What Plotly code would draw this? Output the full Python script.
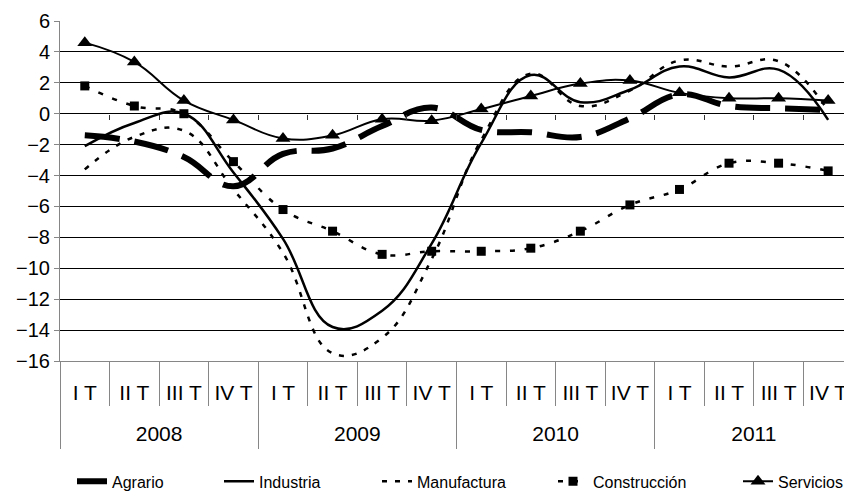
import plotly.graph_objects as go

quarters = ["I T", "II T", "III T", "IV T"] * 4
years = ["2008", "2009", "2010", "2011"]

agrario = [-1.4, -1.8, -2.8, -4.7, -2.6, -2.25, -0.8, 0.4, -1.05, -1.2, -1.5, -0.3, 1.25, 0.5, 0.35, 0.25]
industria = [-2.1, -0.6, 0.0, -3.8, -8.1, -13.8, -12.75, -8.4, -1.9, 2.5, 0.75, 1.55, 3.05, 2.35, 2.85, -0.4]
manufactura = [-3.6, -1.5, -1.1, -4.9, -9.0, -15.5, -14.5, -9.4, -1.7, 2.6, 0.5, 1.5, 3.45, 3.05, 3.4, 0.2]
construccion = [1.8, 0.5, 0.0, -3.1, -6.2, -7.6, -9.1, -8.9, -8.9, -8.7, -7.6, -5.9, -4.9, -3.2, -3.2, -3.7]
servicios = [4.6, 3.35, 0.85, -0.4, -1.6, -1.4, -0.35, -0.45, 0.3, 1.15, 1.95, 2.15, 1.35, 1.0, 1.0, 0.85]

x = list(range(len(quarters)))
bounds = [i - 0.5 for i in range(len(quarters) + 1)]
year_mid = [4 * k + 1.5 for k in range(len(years))]
year_bounds = [4 * k - 0.5 for k in range(len(years) + 1)]
xr = [-0.5, 15.32]
yr = [-16, 6]

FONT = "Liberation Sans, Arial, sans-serif"
GREY = "#868686"
SM = 1.2

fig = go.Figure()

def add(name, y, line, marker=None, leg="legend"):
    mode = "lines+markers" if marker else "lines"
    fig.add_trace(go.Scatter(x=x, y=y, name=name, mode=mode, line=line,
                             marker=marker, legend=leg, line_shape="spline"))

add("Agrario", agrario, dict(color="black", width=6, dash="35px,15px", smoothing=SM), leg="legend")
add("Industria", industria, dict(color="black", width=2.5, smoothing=SM), leg="legend2")
add("Manufactura", manufactura, dict(color="black", width=2.5, dash="5px,8px", smoothing=SM), leg="legend3")
add("Construcción", construccion, dict(color="black", width=2.5, dash="5px,10px", smoothing=SM),
    marker=dict(symbol="square", size=9, color="black"), leg="legend4")
add("Servicios", servicios, dict(color="black", width=2, smoothing=SM),
    marker=dict(symbol="triangle-up", size=13, color="black"), leg="legend5")

# empty traces so the year axis and the zero-line tick axis get drawn
fig.add_trace(go.Scatter(x=[], y=[], xaxis="x2", showlegend=False, hoverinfo="skip"))
fig.add_trace(go.Scatter(x=[], y=[], xaxis="x3", showlegend=False, hoverinfo="skip"))

# legend text start positions (px) -> paper
text_px = [112, 259, 417, 593, 778]
legs = {}
for i, tx in enumerate(text_px):
    key = "legend" if i == 0 else "legend%d" % (i + 1)
    legs[key] = dict(x=(tx - 40 - 60) / 784, y=-0.354, xanchor="left", yanchor="middle",
                     orientation="h", bgcolor="rgba(0,0,0,0)",
                     font=dict(family=FONT, size=16, color="black"))

fig.update_layout(
    width=844, height=491,
    margin=dict(l=60, r=0, t=21, b=130, autoexpand=False),
    plot_bgcolor="white", paper_bgcolor="white",
    font=dict(family=FONT, color="black"),
    showlegend=True,
    xaxis=dict(range=xr, tickvals=x, ticktext=quarters, ticks="", showgrid=False,
               showline=True, linecolor=GREY, zeroline=False,
               tickfont=dict(size=21), ticklabelstandoff=13, ticklabeloverflow="allow",
               minor=dict(tickvals=bounds, ticks="outside", ticklen=44,
                          tickcolor=GREY, tickwidth=1, showgrid=False)),
    xaxis2=dict(overlaying="x", anchor="y", side="bottom", range=xr,
                tickvals=year_mid, ticktext=years, ticks="", showgrid=False,
                showline=False, zeroline=False, tickfont=dict(size=21),
                ticklabelstandoff=58,
                minor=dict(tickvals=year_bounds, ticks="outside", ticklen=87,
                           tickcolor=GREY, tickwidth=1, showgrid=False)),
    xaxis3=dict(overlaying="x", anchor="free", position=(0 - yr[0]) / (yr[1] - yr[0]),
                range=xr, tickvals=bounds[1:-1], ticks="outside", ticklen=5,
                tickcolor="#333333", showticklabels=False, showgrid=False,
                showline=False, zeroline=False),
    yaxis=dict(range=yr, dtick=2, tick0=0, showgrid=True, gridcolor="black", gridwidth=1,
               showline=True, linecolor=GREY, ticks="outside", ticklen=5, tickcolor=GREY,
               zeroline=False, tickfont=dict(size=20)),
    **legs,
)

fig.write_html("out.html", config={"displayModeBar": False},
               post_script="document.body.style.margin='0';")
